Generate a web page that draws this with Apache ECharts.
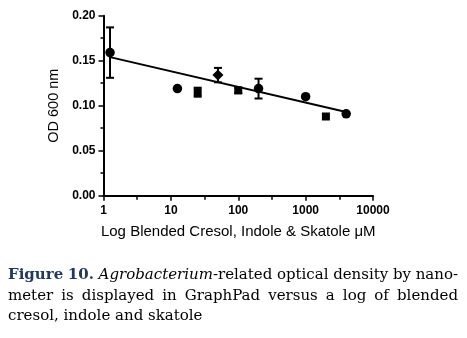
<!DOCTYPE html>
<html>
<head>
<meta charset="utf-8">
<script src="https://cdn.jsdelivr.net/npm/echarts@6/dist/echarts.min.js"></script>
<style>
  html, body { margin: 0; padding: 0; background: #fff; }
  #chart { width: 467px; height: 338px; }
</style>
</head>
<body>
<div id="chart"></div>
<script>
// Blended cresol / indole / skatole concentration (µM) and Agrobacterium OD600
const concentration = [1.25, 12.5, 25, 50, 100, 200, 1000, 2000, 4000];
const od600 = [0.159, 0.119, 0.115, 0.134, 0.117, 0.119, 0.110, 0.088, 0.091];
const odError = [0.028, 0, 0.005, 0.008, 0.003, 0.011, 0, 0, 0];
const markerShape = ['circle', 'circle', 'rect', 'diamond', 'rect', 'circle', 'circle', 'rect', 'circle'];

// Log-linear fit, endpoints over the tested range
const fitX = [1.25, 4000];
const fitY = [0.154, 0.093];

const xTickLabels = ['1', '10', '100', '1000', '10000'];
const yTickLabels = ['0.00', '0.05', '0.10', '0.15', '0.20'];

const captionLines = [
  { justify: true, words: [
    [{ t: 'Figure', s: 'fig' }], [{ t: '10.', s: 'fig' }],
    [{ t: 'Agrobacterium', s: 'it' }, { t: '-related', s: 'n' }],
    [{ t: 'optical', s: 'n' }], [{ t: 'density', s: 'n' }], [{ t: 'by', s: 'n' }], [{ t: 'nano-', s: 'n' }]
  ]},
  { justify: true, words: 'meter is displayed in GraphPad versus a log of blended'.split(' ').map(t => [{ t, s: 'n' }]) },
  { justify: false, words: 'cresol, indole and skatole'.split(' ').map(t => [{ t, s: 'n' }]) }
];

const chart = echarts.init(document.getElementById('chart'), null, { renderer: 'canvas' });

const AX = '#000';
const sans = 'Liberation Sans, Arial, sans-serif';
const tickFont = { fontFamily: sans, fontSize: 12, fontWeight: 'bold', color: '#000' };

// Caption layout: justified text built from measured word widths
const capFontSize = 15;
const capFamily = 'DejaVu Serif';
const segStyle = {
  fig: { fontWeight: 'bold', fontStyle: 'normal', fill: '#1f3864' },
  it: { fontWeight: 'normal', fontStyle: 'italic', fill: '#000' },
  n: { fontWeight: 'normal', fontStyle: 'normal', fill: '#000' }
};
const mctx = document.createElement('canvas').getContext('2d');
function fontStr(s) { return s.fontStyle + ' ' + s.fontWeight + ' ' + capFontSize + 'px "' + capFamily + '"'; }
function measure(text, s) { mctx.font = fontStr(s); return mctx.measureText(text).width; }

const capLeft = 8, capRight = 458;
const capY = [277, 298, 318];
const captionGraphics = [];
captionLines.forEach((line, li) => {
  const widths = line.words.map(w => w.reduce((a, seg) => a + measure(seg.t, segStyle[seg.s]), 0));
  const total = widths.reduce((a, b) => a + b, 0);
  const space = measure(' ', segStyle.n);
  const gap = line.justify ? (capRight - capLeft - total) / (line.words.length - 1) : space;
  let x = capLeft;
  line.words.forEach(w => {
    w.forEach(seg => {
      const st = segStyle[seg.s];
      captionGraphics.push({
        type: 'text', left: x, top: capY[li] - capFontSize * 0.6,
        style: { text: seg.t, fill: st.fill, font: fontStr(st) }
      });
      x += measure(seg.t, st);
    });
    x += gap;
  });
});

const option = {
  animation: false,
  backgroundColor: '#fff',
  grid: { left: 103.5, right: 94, top: 15.7, bottom: 142.3, containLabel: false },
  xAxis: [
    {
      type: 'log', logBase: 10, min: 1, max: 10000, position: 'bottom',
      name: 'Log Blended Cresol, Indole & Skatole \u03bcM',
      nameLocation: 'middle', nameGap: 29,
      nameTextStyle: { fontFamily: sans, fontSize: 15, color: '#000' },
      axisLine: { lineStyle: { color: AX, width: 2 } },
      axisTick: { length: 5, lineStyle: { color: AX, width: 1.5 } },
      axisLabel: Object.assign({ margin: 9, formatter: v => xTickLabels[Math.round(Math.log10(v))] }, tickFont),
      splitLine: { show: false },
      z: 3
    },
    {
      // half-decade minor ticks
      type: 'value', min: 0, max: 4, interval: 0.5, position: 'bottom', offset: 0,
      axisLine: { show: false, onZero: false },
      axisTick: { show: true, length: 4, lineStyle: { color: AX, width: 1.5 } },
      axisLabel: { show: false },
      splitLine: { show: false },
      z: 3
    }
  ],
  yAxis: {
    type: 'value', min: 0, max: 0.2, interval: 0.05,
    name: 'OD 600 nm', nameLocation: 'middle', nameGap: 41,
    nameTextStyle: { fontFamily: sans, fontSize: 14.5, color: '#000' },
    axisLine: { show: true, lineStyle: { color: AX, width: 2 } },
    axisTick: { show: true, length: 5, lineStyle: { color: AX, width: 1.5 } },
    minorTick: { show: true, splitNumber: 2, length: 3, lineStyle: { color: AX, width: 1.5 } },
    axisLabel: Object.assign({ margin: 8, formatter: v => yTickLabels[Math.round(v / 0.05)] }, tickFont),
    splitLine: { show: false }
  },
  series: [
    {
      type: 'line', xAxisIndex: 0,
      data: fitX.map((x, i) => [x, fitY[i]]),
      showSymbol: false, symbol: 'none',
      lineStyle: { color: '#000', width: 2 }, z: 2
    },
    {
      type: 'custom', xAxisIndex: 0,
      data: concentration.map((x, i) => [x, od600[i], odError[i]]),
      renderItem: function (params, api) {
        const x = api.value(0), y = api.value(1), e = api.value(2);
        if (!e) return null;
        const top = api.coord([x, y + e]);
        const bot = api.coord([x, y - e]);
        const cap = 4;
        const st = { stroke: '#000', lineWidth: 2 };
        return {
          type: 'group',
          children: [
            { type: 'line', shape: { x1: top[0], y1: top[1], x2: bot[0], y2: bot[1] }, style: st },
            { type: 'line', shape: { x1: top[0] - cap, y1: top[1], x2: top[0] + cap, y2: top[1] }, style: st },
            { type: 'line', shape: { x1: bot[0] - cap, y1: bot[1], x2: bot[0] + cap, y2: bot[1] }, style: st }
          ]
        };
      },
      z: 3
    },
    {
      type: 'scatter', xAxisIndex: 0,
      data: concentration.map((x, i) => ({
        value: [x, od600[i]],
        symbol: markerShape[i],
        symbolSize: markerShape[i] === 'diamond' ? 11 : (markerShape[i] === 'rect' ? 8 : 9.5)
      })),
      itemStyle: { color: '#000', opacity: 1 },
      z: 4
    }
  ],
  graphic: captionGraphics
};

chart.setOption(option);
</script>
</body>
</html>
